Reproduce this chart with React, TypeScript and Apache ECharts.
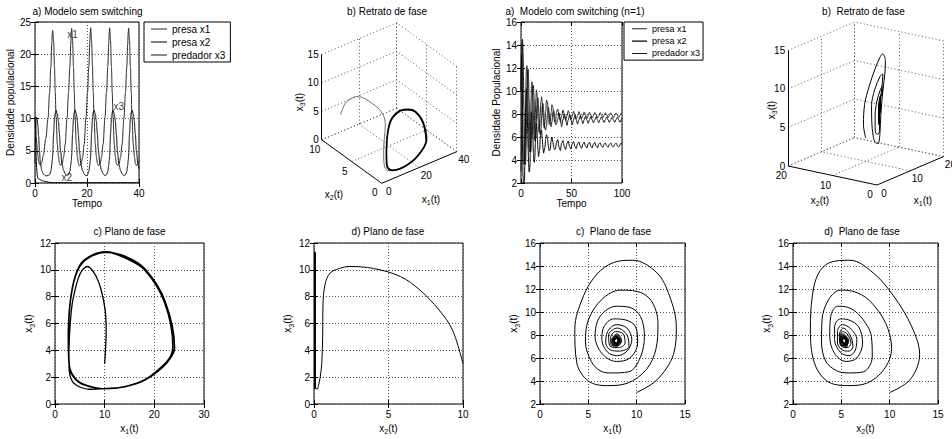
import React, { useEffect, useRef } from "react";
import * as echarts from "echarts";

// ---------- data ----------
// Model without switching: rows [t, x1, x2, x3]
const semSwitching: number[][] = [
  [0, 10, 10, 3.0], [0.08, 10.3, 9.3, 5.5], [0.16, 10.1, 8.4, 7.0], [0.26, 9.3, 7.1, 8.5],
  [0.36, 8.3, 5.8, 9.5], [0.48, 7.2, 4.0, 10.1], [0.62, 6.5, 2.4, 10.25], [0.75, 5.8, 1.7, 10.1],
  [0.9, 5.1, 1.07, 9.75], [1.1, 4.3, 0.74, 8.9], [1.4, 3.4, 0.6, 7.3], [1.7, 2.9, 0.58, 5.0],
  [2.1, 2.8, 0.52, 3.0], [2.6, 3.2, 0.4, 1.9], [3.2, 4.3, 0.3, 1.4], [4.2, 7.0, 0.22, 1.1],
  [5.0, 10.0, 0.14, 1.15], [5.6, 14.0, 0.1, 1.3], [6.1, 18.0, 0.08, 1.8], [6.45, 21.5, 0.07, 2.8],
  [6.65, 23.3, 0.06, 3.6], [6.8, 23.7, 0.06, 4.3],
  [7.15, 22.0, 0.06, 7.6], [7.5, 18.0, 0.06, 10.0], [7.8, 14.0, 0.06, 10.9], [8.1, 10.3, 0.06, 11.3],
  [8.6, 6.0, 0.06, 10.7], [9.0, 4.2, 0.06, 9.6], [9.4, 3.1, 0.06, 7.6], [9.8, 2.75, 0.06, 5.0],
  [10.4, 2.9, 0.06, 2.9], [11.0, 4.0, 0.06, 1.95], [11.6, 6.0, 0.05, 1.45], [12.3, 10.0, 0.05, 1.15],
  [12.9, 14.0, 0.05, 1.3], [13.4, 18.0, 0.05, 1.8], [13.75, 21.5, 0.05, 2.7], [13.95, 23.3, 0.05, 3.5],
  [14.1, 24.0, 0.05, 4.2],
  [14.45, 22.1, 0.05, 7.7], [14.8, 18.1, 0.05, 10.05], [15.1, 14.1, 0.05, 10.95], [15.4, 10.3, 0.05, 11.35],
  [15.9, 5.9, 0.05, 10.75], [16.3, 4.1, 0.05, 9.6], [16.7, 3.0, 0.05, 7.5], [17.1, 2.65, 0.05, 4.9],
  [17.7, 2.85, 0.05, 2.8], [18.3, 3.95, 0.05, 1.9], [18.9, 6.0, 0.05, 1.4], [19.6, 10.1, 0.05, 1.12],
  [20.2, 14.1, 0.05, 1.28], [20.7, 18.1, 0.05, 1.78], [21.05, 21.6, 0.05, 2.7], [21.25, 23.4, 0.05, 3.5],
  [21.4, 24.1, 0.05, 4.2],
  [21.75, 22.2, 0.05, 7.65], [22.1, 18.2, 0.05, 10.05], [22.4, 14.2, 0.05, 11.0], [22.7, 10.4, 0.05, 11.3],
  [23.2, 6.05, 0.05, 10.7], [23.6, 4.15, 0.05, 9.55], [24.0, 3.05, 0.05, 7.55], [24.4, 2.7, 0.05, 4.95],
  [25.0, 2.9, 0.05, 2.85], [25.6, 4.0, 0.05, 1.92], [26.2, 6.05, 0.05, 1.42], [26.9, 10.1, 0.05, 1.13],
  [27.5, 14.1, 0.05, 1.29], [28.0, 18.1, 0.05, 1.8], [28.35, 21.6, 0.05, 2.72], [28.55, 23.4, 0.05, 3.52],
  [28.7, 24.1, 0.05, 4.22],
  [29.05, 22.1, 0.05, 7.65], [29.4, 18.1, 0.05, 10.0], [29.7, 14.1, 0.05, 10.95], [30.0, 10.3, 0.05, 11.3],
  [30.5, 6.0, 0.05, 10.7], [30.9, 4.15, 0.05, 9.6], [31.3, 3.05, 0.05, 7.55], [31.7, 2.7, 0.05, 4.95],
  [32.3, 2.9, 0.05, 2.85], [32.9, 4.0, 0.05, 1.93], [33.5, 6.0, 0.05, 1.43], [34.2, 10.05, 0.05, 1.14],
  [34.8, 14.05, 0.05, 1.3], [35.3, 18.05, 0.05, 1.8], [35.65, 21.55, 0.05, 2.7], [35.85, 23.35, 0.05, 3.5],
  [36.0, 24.05, 0.05, 4.2],
  [36.35, 22.1, 0.05, 7.65], [36.7, 18.1, 0.05, 10.0], [37.0, 14.1, 0.05, 10.95], [37.3, 10.3, 0.05, 11.3],
  [37.8, 6.0, 0.05, 10.7], [38.2, 4.15, 0.05, 9.6], [38.6, 3.05, 0.05, 7.55], [39.0, 2.7, 0.05, 4.95],
  [39.6, 2.9, 0.05, 2.85], [40.0, 3.5, 0.05, 2.2],
];

// Model with switching (n=1): rows [t, x1, x2, x3]
const comSwitching: number[][] = [
  [0, 10.0, 10.0, 3.0], [0.25, 12.1, 12.1, 4.1], [0.5, 13.8, 13.1, 6.3], [0.75, 14.1, 12.3, 8.7],
  [1.0, 13.4, 10.4, 11.4], [1.2, 12.1, 8.3, 13.4], [1.45, 9.6, 5.9, 14.5], [1.7, 7.6, 3.8, 14.3],
  [2.0, 5.9, 2.6, 13.3], [2.4, 4.5, 2.0, 11.4], [2.9, 3.6, 1.8, 8.5], [3.4, 3.8, 2.2, 5.6],
  [3.8, 5.0, 3.5, 4.0], [4.2, 6.9, 5.6, 3.6],
  [4.6, 9.0, 7.6, 3.8], [5.0, 11.0, 9.4, 5.0], [5.4, 12.0, 10.2, 6.8], [5.8, 12.2, 9.6, 9.0],
  [6.25, 11.5, 7.9, 11.0], [6.7, 10.0, 6.2, 11.8], [7.1, 8.3, 4.9, 11.9], [7.5, 6.4, 3.7, 11.1],
  [7.95, 5.0, 3.0, 9.3], [8.4, 4.7, 2.95, 7.4], [8.8, 5.3, 3.4, 5.7], [9.15, 6.2, 4.5, 4.9],
  [9.5, 7.2, 5.7, 4.7],
  [9.95, 9.2, 7.3, 4.8], [10.4, 10.4, 8.2, 6.1], [10.85, 10.8, 8.1, 7.9], [11.3, 10.4, 7.0, 9.6],
  [11.8, 9.3, 5.7, 10.4], [12.3, 7.9, 4.6, 10.5], [12.8, 6.2, 3.9, 9.6], [13.3, 5.7, 3.8, 7.9],
  [13.75, 6.4, 4.3, 6.4], [14.2, 7.9, 5.5, 5.7],
  [14.7, 9.3, 6.6, 6.0], [15.2, 10.1, 7.2, 7.3], [15.7, 9.9, 6.8, 8.7], [16.3, 8.9, 5.8, 9.3],
  [16.8, 7.6, 4.9, 9.4], [17.4, 6.6, 4.3, 8.7], [17.95, 6.4, 4.3, 7.6], [18.5, 7.0, 4.9, 6.5],
  [19.05, 8.0, 5.8, 6.2],
  [19.7, 9.0, 6.4, 6.6], [20.35, 9.5, 6.6, 7.6], [21.0, 9.0, 5.9, 8.6], [21.7, 7.9, 5.1, 8.9],
  [22.4, 7.0, 4.6, 8.3], [23.0, 6.8, 4.6, 7.3], [23.7, 7.3, 5.1, 6.7], [24.4, 8.2, 5.8, 6.6],
  [25.3, 9.2, 6.2, 7.0], [26.2, 9.0, 5.9, 8.0], [27.1, 8.0, 5.2, 8.6], [28.0, 7.1, 4.8, 8.0],
  [28.9, 7.2, 4.9, 7.1], [29.7, 8.1, 5.6, 6.9],
  [30.6, 8.8, 6.0, 7.3], [31.5, 8.6, 5.6, 8.1], [32.4, 7.8, 5.1, 8.3], [33.3, 7.3, 4.9, 7.7],
  [34.2, 7.4, 5.0, 7.1], [35.0, 8.1, 5.5, 7.1],
  [36.31, 8.44, 5.77, 7.5], [37.62, 7.99, 5.13, 8.1], [38.94, 7.36, 4.83, 7.5], [40.25, 7.81, 5.47, 6.9],
  [41.56, 8.35, 5.69, 7.5], [42.87, 7.98, 5.16, 8.0], [44.19, 7.45, 4.91, 7.5], [45.5, 7.82, 5.44, 7.0],
  [46.81, 8.29, 5.65, 7.5], [48.12, 7.97, 5.17, 7.93], [49.44, 7.51, 4.95, 7.5], [50.75, 7.83, 5.43, 7.07],
  [52.06, 8.24, 5.61, 7.5], [53.37, 7.96, 5.19, 7.88], [54.69, 7.56, 4.99, 7.5], [56.0, 7.84, 5.41, 7.12],
  [57.31, 8.21, 5.58, 7.5], [58.62, 7.95, 5.2, 7.84], [59.94, 7.59, 5.02, 7.5], [61.25, 7.85, 5.4, 7.16],
  [62.56, 8.18, 5.55, 7.5], [63.87, 7.95, 5.21, 7.81], [65.19, 7.62, 5.05, 7.5], [66.5, 7.85, 5.39, 7.19],
  [67.81, 8.15, 5.54, 7.5], [69.12, 7.94, 5.22, 7.78], [70.44, 7.65, 5.06, 7.5], [71.75, 7.86, 5.39, 7.22],
  [73.06, 8.14, 5.52, 7.5], [74.37, 7.94, 5.22, 7.76], [75.69, 7.66, 5.08, 7.5], [77.0, 7.86, 5.38, 7.24],
  [78.31, 8.12, 5.5, 7.5], [79.62, 7.94, 5.23, 7.74], [80.94, 7.68, 5.1, 7.5], [82.25, 7.86, 5.37, 7.26],
  [83.56, 8.11, 5.49, 7.5], [84.87, 7.94, 5.23, 7.73], [86.19, 7.69, 5.11, 7.5], [87.5, 7.86, 5.37, 7.27],
  [88.81, 8.1, 5.48, 7.5], [90.12, 7.93, 5.24, 7.72], [91.44, 7.7, 5.12, 7.5], [92.75, 7.87, 5.36, 7.28],
  [94.06, 8.09, 5.47, 7.5], [95.37, 7.93, 5.24, 7.71], [96.69, 7.71, 5.13, 7.5], [98.0, 7.87, 5.36, 7.29],
  [99.31, 8.08, 5.46, 7.5], [100, 8.0, 5.35, 7.62],
];

const legendNames = ["presa x1", "presa x2", "predador x3"];
const curveTags = [
  { text: "x1", t: 12.2, v: 23.0 },
  { text: "x3", t: 30.0, v: 11.85 },
  { text: "x2", t: 10.0, v: 0.8 },
];

// axis ranges [min, max, interval]
const rangeTempoA = [0, 40, 20];
const rangeDensA = [0, 25, 5];
const rangeTempoB = [0, 100, 50];
const rangeDensB = [2, 16, 2];
const rangeX1A = [0, 30, 10];
const rangeX2A = [0, 10, 5];
const rangeX3A = [0, 12, 2];
const rangeXB = [0, 15, 5];
const rangeX3B = [2, 16, 2];

// 3D tick values
const box3dATicks = { x1: [0, 20, 40], x2: [0, 5, 10], z: [0, 5, 10, 15] };
const box3dBTicks = { x1: [0, 10, 20], x2: [0, 10, 20], z: [0, 5, 10, 15] };

// ---------- layout / style ----------
const FONT = "'Liberation Sans', Arial, Helvetica, sans-serif";
const lineColors = ["#2a2a2a", "#000000", "#141414"];
const legendIcon =
  "path://M0,0h0.01v0.01h-0.01z M0,4.4h16v1.2h-16z M15.99,9.99h0.01v0.01h-0.01z";

const richSub: any = {
  a: { fontSize: 10, lineHeight: 14, fontFamily: FONT, color: "#000" },
  b: { fontSize: 7, lineHeight: 7, verticalAlign: "bottom", fontFamily: FONT, color: "#000" },
};
const sub = (i: number) => `{a|x}{b|${i}}{a|(t)}`;

type Panel = {
  rect: number[]; x: number[]; y: number[];
  xName: string; yName: string; xGap: number; yGap: number; rich: boolean;
};

const panels: Panel[] = [
  { rect: [35, 22, 104, 161], x: rangeTempoA, y: rangeDensA, xName: "Tempo", yName: "Densidade populacional", xGap: 14, yGap: 15, rich: false },
  { rect: [521, 22, 101, 161], x: rangeTempoB, y: rangeDensB, xName: "Tempo", yName: "Densidade Populacional", xGap: 14, yGap: 16, rich: false },
  { rect: [55, 243, 149, 161], x: rangeX1A, y: rangeX3A, xName: sub(1), yName: sub(3), xGap: 17, yGap: 14, rich: true },
  { rect: [314, 243, 149, 161], x: rangeX2A, y: rangeX3A, xName: sub(2), yName: sub(3), xGap: 17, yGap: 14, rich: true },
  { rect: [540, 243, 145, 161], x: rangeXB, y: rangeX3B, xName: sub(1), yName: sub(3), xGap: 17, yGap: 13, rich: true },
  { rect: [793, 243, 145, 161], x: rangeXB, y: rangeX3B, xName: sub(2), yName: sub(3), xGap: 17, yGap: 14, rich: true },
];

type Box = {
  origin: number[]; e1: number[]; e2: number[]; ez: number;
  ticks: { x1: number[]; x2: number[]; z: number[] };
  x1NamePos: number[]; x2NamePos: number[]; zNamePos: number[];
};

const boxA: Box = {
  origin: [381.7, 183.3], e1: [1.875, -0.79], e2: [-6.0, -4.35], ez: 5.69,
  ticks: box3dATicks, x1NamePos: [431, 199], x2NamePos: [334, 194], zNamePos: [299, 102],
};
const boxB: Box = {
  origin: [877, 185], e1: [3.32, -1.42], e2: [-4.44, -0.95], ez: 7.71,
  ticks: box3dBTicks, x1NamePos: [923, 200], x2NamePos: [820, 200], zNamePos: [771, 110],
};

const titles = [
  { text: "a) Modelo sem switching", x: 87.5, y: 11.7 },
  { text: "b) Retrato de fase", x: 387, y: 11.7 },
  { text: "a)  Modelo com switching (n=1)", x: 575, y: 11.7 },
  { text: "b)  Retrato de fase", x: 863.5, y: 11.7 },
  { text: "c) Plano de fase", x: 129.5, y: 231.7 },
  { text: "d) Plano de fase", x: 388, y: 231.7 },
  { text: "c)  Plano de fase", x: 613.5, y: 231.7 },
  { text: "d)  Plano de fase", x: 862, y: 231.7 },
];

const last = (a: number[]) => a[a.length - 1];

function proj(box: Box, a: number, b: number, c: number): number[] {
  return [
    box.origin[0] + a * box.e1[0] + b * box.e2[0],
    box.origin[1] + a * box.e1[1] + b * box.e2[1] - c * box.ez,
  ];
}

function boxLines(box: Box) {
  const x1m = last(box.ticks.x1), x2m = last(box.ticks.x2), zm = last(box.ticks.z);
  const grid: number[][][] = [];
  const seg = (p: number[], q: number[]) =>
    grid.push([proj(box, p[0], p[1], p[2]), proj(box, q[0], q[1], q[2])]);
  box.ticks.x1.filter((v) => v > 0).forEach((v) => seg([v, x2m, 0], [v, x2m, zm]));
  box.ticks.z.forEach((z) => seg([0, x2m, z], [x1m, x2m, z]));
  box.ticks.x2.forEach((v) => seg([x1m, v, 0], [x1m, v, zm]));
  box.ticks.z.forEach((z) => seg([x1m, 0, z], [x1m, x2m, z]));
  box.ticks.x1.filter((v) => v > 0).forEach((v) => seg([v, 0, 0], [v, x2m, 0]));
  box.ticks.x2.filter((v) => v > 0).forEach((v) => seg([0, v, 0], [x1m, v, 0]));
  const axes = [
    [proj(box, 0, x2m, 0), proj(box, 0, x2m, zm)],
    [proj(box, 0, 0, 0), proj(box, 0, x2m, 0)],
    [proj(box, 0, 0, 0), proj(box, x1m, 0, 0)],
  ];
  return { grid, axes };
}

function txt(text: string, x: number, y: number, align: string) {
  return {
    type: "text", x, y, silent: true,
    style: { text, fill: "#000", fontSize: 10, fontFamily: FONT, align, verticalAlign: "middle" },
  };
}

function richTxt(text: string, pos: number[], rotation = 0) {
  return {
    type: "text", x: pos[0], y: pos[1], rotation, silent: true,
    style: { text, rich: richSub, align: "center", verticalAlign: "middle", fontFamily: FONT, fontSize: 10, fill: "#000" },
  };
}

function boxTexts(box: Box) {
  const out: any[] = [];
  const x2m = last(box.ticks.x2);
  box.ticks.z.forEach((z) => {
    const p = proj(box, 0, x2m, z);
    out.push(txt(String(z), p[0] - 3, p[1], "right"));
  });
  box.ticks.x1.forEach((v) => {
    const p = proj(box, v, 0, 0);
    out.push(txt(String(v), p[0] + 7, p[1] + 8, "center"));
  });
  box.ticks.x2.forEach((v) => {
    const p = proj(box, 0, v, 0);
    out.push(txt(String(v), p[0] - 7, p[1] + 9.5, "center"));
  });
  out.push(richTxt(sub(1), box.x1NamePos));
  out.push(richTxt(sub(2), box.x2NamePos));
  out.push(richTxt(sub(3), box.zNamePos, Math.PI / 2));
  return out;
}

function buildOption() {
  const grids: any[] = [];
  const xAxes: any[] = [];
  const yAxes: any[] = [];
  const tick = { show: true, inside: true, length: 4, lineStyle: { color: "#000", width: 1 } };
  const split = { show: true, lineStyle: { color: "#555", type: [1, 2], width: 1 } };
  const label = { fontSize: 10, color: "#000", fontFamily: FONT };

  panels.forEach((p, i) => {
    grids.push({
      left: p.rect[0], top: p.rect[1], width: p.rect[2], height: p.rect[3],
      show: true, borderColor: "#000", borderWidth: 1, backgroundColor: "#fff",
    });
    const nameStyle: any = { fontSize: 10, color: "#000", fontFamily: FONT };
    if (p.rich) nameStyle.rich = richSub;
    const base = (r: number[]) => ({ type: "value", min: r[0], max: r[1], interval: r[2], gridIndex: i });
    xAxes.push({
      ...base(p.x), position: "bottom", name: p.xName, nameLocation: "middle", nameGap: p.xGap,
      nameTextStyle: nameStyle, axisLine: { show: false }, axisTick: tick,
      axisLabel: { ...label, margin: 5 }, splitLine: split,
    });
    xAxes.push({
      ...base(p.x), position: "top", axisLine: { show: false }, axisTick: tick,
      axisLabel: { show: false }, splitLine: { show: false },
    });
    yAxes.push({
      ...base(p.y), position: "left", name: p.yName, nameLocation: "middle", nameGap: p.yGap,
      nameRotate: 90, nameTextStyle: nameStyle, axisLine: { show: false }, axisTick: tick,
      axisLabel: { ...label, margin: 4 }, splitLine: split,
    });
    yAxes.push({
      ...base(p.y), position: "right", axisLine: { show: false }, axisTick: tick,
      axisLabel: { show: false }, splitLine: { show: false },
    });
  });

  // overlay grid for the 3D projections
  const ov = panels.length;
  grids.push({ left: 0, top: 0, width: 952, height: 439, show: false });
  xAxes.push({ type: "value", gridIndex: ov, min: 0, max: 952, show: false });
  yAxes.push({ type: "value", gridIndex: ov, min: 0, max: 439, inverse: true, show: false });
  const ovIdx = 2 * ov;

  const ax = (i: number) => ({ xAxisIndex: 2 * i, yAxisIndex: 2 * i });
  const lineBase = { type: "line", symbol: "none", showSymbol: false, silent: true, animation: false };

  const series: any[] = [];
  legendNames.forEach((n, k) => {
    series.push({
      ...lineBase, ...ax(0), name: n,
      data: semSwitching.map((r) => [r[0], r[k + 1]]),
      smooth: 0.35, smoothMonotone: "x",
      lineStyle: { color: lineColors[k], width: 1 }, itemStyle: { color: lineColors[k] },
    });
  });
  series.push({
    type: "scatter", ...ax(0), symbolSize: 1, silent: true,
    itemStyle: { color: "rgba(0,0,0,0)" },
    data: curveTags.map((c) => ({ value: [c.t, c.v], name: c.text })),
    label: { show: true, formatter: "{b}", position: "right", distance: 0, fontSize: 10, color: "#000", fontFamily: FONT },
  });
  legendNames.forEach((n, k) => {
    series.push({
      ...lineBase, ...ax(1), name: n,
      data: comSwitching.map((r) => [r[0], r[k + 1]]),
      smooth: 0.35, smoothMonotone: "x",
      lineStyle: { color: lineColors[k], width: 1 }, itemStyle: { color: lineColors[k] },
    });
  });
  series.push({ ...lineBase, ...ax(2), data: semSwitching.map((r) => [r[1], r[3]]), smooth: 0.35, lineStyle: { color: "#000", width: 1.3 } });
  series.push({ ...lineBase, ...ax(3), data: semSwitching.map((r) => [r[2], r[3]]), smooth: 0.35, lineStyle: { color: "#000", width: 1 } });
  series.push({ ...lineBase, ...ax(4), data: comSwitching.map((r) => [r[1], r[3]]), smooth: 0.35, lineStyle: { color: "#000", width: 1 } });
  series.push({ ...lineBase, ...ax(5), data: comSwitching.map((r) => [r[2], r[3]]), smooth: 0.35, lineStyle: { color: "#000", width: 1 } });

  const graphics: any[] = [];
  [boxA, boxB].forEach((box) => {
    const { grid, axes } = boxLines(box);
    series.push({
      type: "lines", coordinateSystem: "cartesian2d", xAxisIndex: ovIdx, yAxisIndex: ovIdx,
      polyline: false, silent: true, animation: false,
      lineStyle: { color: "#555", width: 1, type: [1, 2.5], opacity: 1 },
      data: grid.map((c) => ({ coords: c })),
    });
    series.push({
      type: "lines", coordinateSystem: "cartesian2d", xAxisIndex: ovIdx, yAxisIndex: ovIdx,
      polyline: false, silent: true, animation: false,
      lineStyle: { color: "#000", width: 1, type: "solid", opacity: 1 },
      data: axes.map((c) => ({ coords: c })),
    });
    graphics.push(...boxTexts(box));
  });
  series.push({
    ...lineBase, xAxisIndex: ovIdx, yAxisIndex: ovIdx, smooth: 0.35,
    data: semSwitching.filter((r) => r[0] <= 14.1).map((r) => proj(boxA, r[1], r[2], r[3])),
    lineStyle: { color: "#6e6e6e", width: 1 },
  });
  series.push({
    ...lineBase, xAxisIndex: ovIdx, yAxisIndex: ovIdx, smooth: 0.35,
    data: semSwitching.filter((r) => r[0] >= 14.1).map((r) => proj(boxA, r[1], r[2], r[3])),
    lineStyle: { color: "#000", width: 1.6 },
  });
  series.push({
    ...lineBase, xAxisIndex: ovIdx, yAxisIndex: ovIdx, smooth: 0.35,
    data: comSwitching.map((r) => proj(boxB, r[1], r[2], r[3])),
    lineStyle: { color: "#000", width: 1 },
  });

  titles.forEach((t) => graphics.push(txt(t.text, t.x, t.y, "center")));

  const legendBase = {
    data: legendNames.map((n) => ({ name: n, icon: legendIcon })),
    orient: "vertical", itemGap: 3, itemHeight: 10,
    borderColor: "#000", borderWidth: 1, backgroundColor: "#fff", borderRadius: 0,
    selectedMode: false,
  };

  return {
    animation: false,
    backgroundColor: "#fff",
    textStyle: { fontFamily: FONT },
    grid: grids,
    xAxis: xAxes,
    yAxis: yAxes,
    legend: [
      { ...legendBase, left: 144, top: 22, itemWidth: 16, padding: [2, 5, 2, 7],
        textStyle: { fontSize: 10, color: "#000", fontFamily: FONT } },
      { ...legendBase, left: 624, top: 22, itemWidth: 15, padding: [2, 3, 2, 8],
        textStyle: { fontSize: 9, color: "#000", fontFamily: FONT } },
    ],
    series,
    graphic: graphics,
  };
}

export default function App() {
  const ref = useRef<HTMLDivElement>(null);
  useEffect(() => {
    if (!ref.current) return;
    const chart = echarts.init(ref.current, undefined, { renderer: "svg", width: 952, height: 439 });
    chart.setOption(buildOption() as any);
    return () => chart.dispose();
  }, []);
  return (
    <div
      ref={ref}
      style={{ position: "absolute", left: 0, top: 0, width: 952, height: 439, background: "#fff" }}
    />
  );
}
